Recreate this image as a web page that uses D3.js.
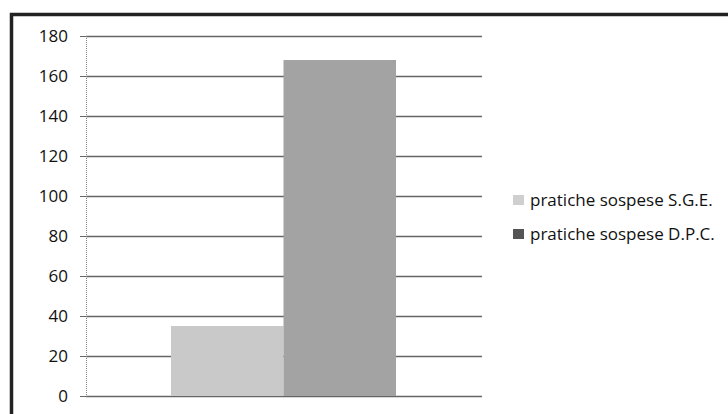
<!DOCTYPE html>
<html>
<head>
<meta charset="utf-8">
<script src="https://cdn.jsdelivr.net/npm/d3@7"></script>
<style>
  body { margin: 0; background: #fff; }
  svg { display: block; }
</style>
</head>
<body>
<div id="chart"></div>
<script>
const series = ["pratiche sospese S.G.E.", "pratiche sospese D.P.C."];
const values = [35, 168];
const colors = ["#c9c9c9", "#a3a3a3"];
const yTicks = [0, 20, 40, 60, 80, 100, 120, 140, 160, 180];

const W = 728, H = 414;
const margin = { top: 36, left: 86, right: 246, bottom: 18 };
const plotW = W - margin.left - margin.right;
const plotH = H - margin.top - margin.bottom;

const svg = d3.select("#chart").append("svg")
  .attr("width", W)
  .attr("height", H);

// outer frame (only top / left visible in the picture)
svg.append("path")
  .attr("d", `M11.5,${H} V14.5 H${W}`)
  .attr("fill", "none")
  .attr("stroke", "#222")
  .attr("stroke-width", 3.5);

const g = svg.append("g")
  .attr("transform", `translate(${margin.left},${margin.top})`);

const y = d3.scaleLinear().domain([0, 180]).range([plotH, 0]);

const x = d3.scaleBand()
  .domain(series)
  .range([85, 310])
  .paddingInner(0);

// gridlines
g.selectAll("line.grid")
  .data(yTicks)
  .enter()
  .append("line")
  .attr("class", "grid")
  .attr("x1", 0)
  .attr("x2", plotW)
  .attr("y1", d => Math.round(y(d)) + 0.5)
  .attr("y2", d => Math.round(y(d)) + 0.5)
  .attr("stroke", "#666")
  .attr("stroke-width", 1.5);

// bars
g.selectAll("rect")
  .data(values)
  .enter()
  .append("rect")
  .attr("x", (d, i) => x(series[i]))
  .attr("y", d => y(d))
  .attr("width", x.bandwidth())
  .attr("height", d => plotH - y(d))
  .attr("fill", (d, i) => colors[i]);

// y axis
const yAxis = g.append("g")
  .call(d3.axisLeft(y).tickValues(yTicks).tickSize(6).tickPadding(12));
yAxis.select(".domain")
  .attr("stroke", "#888")
  .attr("stroke-dasharray", "1,1");
yAxis.selectAll(".tick line").attr("stroke", "#666");
yAxis.selectAll("text")
  .style("font-family", "Open Sans, sans-serif")
  .style("font-size", "17px")
  .style("fill", "#111");

// legend
const legend = svg.append("g")
  .attr("transform", "translate(513,200)");

legend.selectAll("rect")
  .data(series)
  .enter()
  .append("rect")
  .attr("x", 0)
  .attr("y", (d, i) => i * 34 - 5)
  .attr("width", 11)
  .attr("height", 10)
  .attr("fill", (d, i) => i === 0 ? "#cfcfcf" : "#555");

legend.selectAll("text")
  .data(series)
  .enter()
  .append("text")
  .attr("x", 17)
  .attr("y", (d, i) => i * 34 + 6)
  .text(d => d)
  .style("font-family", "Open Sans, sans-serif")
  .style("font-size", "17px")
  .style("fill", "#111");
</script>
</body>
</html>
